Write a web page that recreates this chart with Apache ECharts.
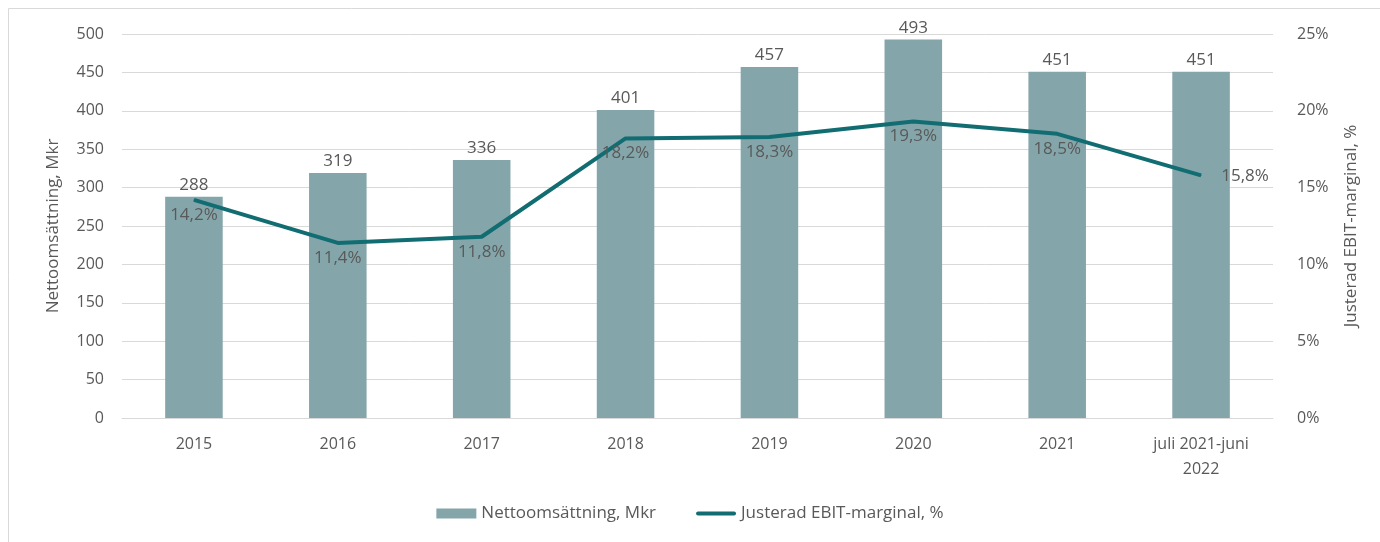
<!DOCTYPE html>
<html>
<head>
<meta charset="utf-8">
<script src="https://cdn.jsdelivr.net/npm/echarts@6/dist/echarts.min.js"></script>
<style>
html,body{margin:0;padding:0;background:#fff;}
#box{width:1380px;height:542px;}
</style>
</head>
<body>
<div id="box"></div>
<script>
var categories = ['2015','2016','2017','2018','2019','2020','2021','juli 2021-juni\n2022'];
var omsattning = [288,319,336,401,457,493,451,451];
var ebitMarginal = [14.2,11.4,11.8,18.2,18.3,19.3,18.5,15.8];

var textColor = '#595959';
var fontFam = '"Open Sans", "Noto Sans", sans-serif';

var mychart = echarts.init(document.getElementById('box'));
var option = {
    animation: false,
    textStyle: { fontFamily: fontFam, color: textColor },
    graphic: [{ //ram runt diagrammet
        type: 'rect',
        shape: { x: 8.5, y: 8.5, width: 1500, height: 700 },
        style: { fill: 'none', stroke: '#d9d9d9', lineWidth: 1 },
        silent: true
    }],
    grid: { left: 122, right: 107, top: 34, bottom: 124 },
    legend: {
        bottom: 15,
        left: 'center',
        itemGap: 40,
        textStyle: { fontSize: 17, color: textColor, fontFamily: fontFam },
        data: [
            { name: 'Nettoomsättning, Mkr', icon: 'rect' },
            { name: 'Justerad EBIT-marginal, %', icon: 'path://M2,3 L38,3 A2,2 0 0 1 38,7 L2,7 A2,2 0 0 1 2,3 Z M0,0 L0,0.01 M40,10 L40,9.99' }
        ],
        itemWidth: 40,
        itemHeight: 10
    },
    xAxis: {
        type: 'category',
        data: categories,
        axisLine: { lineStyle: { color: '#d9d9d9' } },
        axisTick: { show: false },
        axisLabel: { interval: 0, color: textColor, fontSize: 16, margin: 14, lineHeight: 25 }
    },
    yAxis: [{
        type: 'value',
        min: 0, max: 500, interval: 50,
        name: 'Nettoomsättning, Mkr',
        nameLocation: 'middle',
        nameGap: 60,
        nameTextStyle: { color: textColor, fontSize: 17 },
        axisLabel: { color: textColor, fontSize: 16, margin: 18 },
        splitLine: { lineStyle: { color: '#d9d9d9' } },
        axisLine: { show: false }
    }, {
        type: 'value',
        min: 0, max: 25, interval: 5,
        name: 'Justerad EBIT-marginal, %',
        nameLocation: 'middle',
        nameGap: 70,
        nameRotate: 90,
        nameTextStyle: { color: textColor, fontSize: 17 },
        axisLabel: { color: textColor, fontSize: 16, margin: 24, formatter: '{value}%' },
        splitLine: { show: false },
        axisLine: { show: false }
    }],
    series: [{
        name: 'Nettoomsättning, Mkr',
        type: 'bar',
        data: omsattning,
        barWidth: '40%',
        itemStyle: { color: '#84a6aa' },
        label: { show: true, position: 'top', color: textColor, fontSize: 17, distance: 3 }
    }, {
        name: 'Justerad EBIT-marginal, %',
        type: 'line',
        yAxisIndex: 1,
        data: ebitMarginal,
        symbol: 'circle',
        symbolSize: 1,
        showSymbol: true,
        lineStyle: { color: '#116d72', width: 4 },
        itemStyle: { color: '#116d72' },
        label: {
            show: true, position: 'bottom', distance: 6,
            color: textColor, fontSize: 17,
            formatter: function (p) { return p.value.toFixed(1).replace('.', ',') + '%'; }
        },
        labelLayout: function (p) {
            if (p.dataIndex === ebitMarginal.length - 1) {
                return { dx: 44, dy: -14 };
            }
            return {};
        }
    }]
};
mychart.setOption(option);
</script>
</body>
</html>
